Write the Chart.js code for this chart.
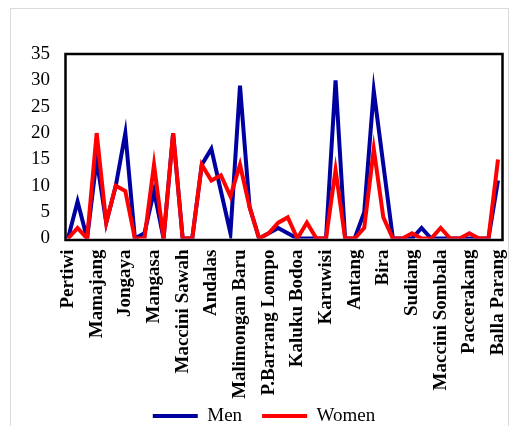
<!DOCTYPE html>
<html>
<head>
<meta charset="utf-8">
<script src="https://cdn.jsdelivr.net/npm/chart.js@4.4.1/dist/chart.umd.min.js"></script>
<style>
  html, body { margin: 0; padding: 0; background: #fff; }
  #frame { position: absolute; left: 10px; top: 8px; width: 497px; height: 430px; border: 1px solid #dadada; }
  #wrap { position: absolute; left: 0; top: 0; width: 511px; height: 426px; }
</style>
</head>
<body>
<div id="frame"></div>
<div id="wrap"><canvas id="chart" width="511" height="426"></canvas></div>
<script>
// health centres, only every third name is printed on the axis
const centres = [
  'Pertiwi', 'Tamalate', 'Cendrawasih', 'Mamajang', 'Kassi-Kassi', 'Pabbaeng-baeng',
  'Jongaya', 'Minasa Upa', 'Barombong', 'Mangasa', 'Tamamaung', 'Batua',
  'Maccini Sawah', 'Bara-Baraya', 'Makkasau', 'Andalas', 'Tarakan', 'Malimongan',
  'Malimongan Baru', 'Rappokalling', 'Tabaringan', 'P.Barrang Lompo', 'P.Barrang Caddi', 'P.Kodingareng',
  'Kaluku Bodoa', 'Jumpandang Baru', 'Layang', 'Karuwisi', 'Dahlia', 'Antara',
  'Antang', 'Antang Perumnas', 'Tamangapa', 'Bira', 'Tamalanrea', 'Tamalanrea Jaya',
  'Sudiang', 'Sudiang Raya', 'Bulurokeng', 'Maccini Sombala', 'Kapasa', 'Pampang',
  'Paccerakang', 'Daya', 'Toddopuli', 'Balla Parang'
];
const men = [
  0, 7, 0, 15, 3, 10, 20, 0, 1, 9, 0, 20, 0, 0, 14, 17, 9, 1, 29, 6, 0, 1, 2,
  1, 0, 0, 0, 0, 30, 0, 0, 5, 28, 14, 0, 0, 0, 2, 0, 0, 0, 0, 0, 0, 0, 11
];
const women = [
  0, 2, 0, 20, 3, 10, 9, 0, 0, 14, 0, 20, 0, 0, 14, 11, 12, 8, 14, 6, 0, 1, 3,
  4, 0, 3, 0, 0, 13, 0, 0, 2, 17, 4, 0, 0, 1, 0, 0, 2, 0, 0, 1, 0, 0, 15
];
const labelEvery = 3;
const yMax = 35;
const yStep = 5;

const serif = 'Liberation Serif';
const legendPad = 20;

// black box round the plot area, drawn under the lines
const plotFrame = {
  id: 'plotFrame',
  afterLayout(chart) {
    // pull the legend up a little so it sits close under the long labels
    chart.legend.top -= legendPad;
    chart.legend.bottom -= legendPad;
  },
  beforeDatasetsDraw(chart) {
    const { ctx, chartArea: a } = chart;
    ctx.save();
    ctx.strokeStyle = '#000';
    ctx.lineWidth = 2.5;
    ctx.strokeRect(a.left - 2.5, a.top, a.right - a.left + 7, a.bottom - a.top + 1.5);
    ctx.restore();
  }
};

new Chart(document.getElementById('chart'), {
  type: 'line',
  data: {
    labels: centres,
    datasets: [
      {
        label: 'Men',
        data: men,
        borderColor: '#0000a0',
        backgroundColor: '#0000a0',
        borderWidth: 4,
        pointRadius: 0,
        tension: 0,
        order: 1
      },
      {
        label: 'Women',
        data: women,
        borderColor: '#ff0000',
        backgroundColor: '#ff0000',
        borderWidth: 4,
        pointRadius: 0,
        tension: 0,
        order: 0
      }
    ]
  },
  options: {
    responsive: false,
    animation: false,
    layout: { padding: { top: 54, left: 30, right: 13, bottom: -(legendPad + 9.5) } },
    scales: {
      x: {
        grid: { display: false, drawTicks: false },
        border: { display: false },
        ticks: {
          autoSkip: false,
          minRotation: 90,
          maxRotation: 90,
          padding: 11,
          color: '#000',
          font: { family: serif, size: 19, weight: 'bold' },
          callback: (v, i) => (i % labelEvery === 0 ? centres[i] : '')
        },
        afterFit: s => {
          s.height = 168;
          s.paddingLeft = 0;
          s.paddingRight = 0;
        }
      },
      y: {
        min: 0,
        max: yMax,
        grid: { display: false, drawTicks: false },
        border: { display: false },
        ticks: {
          stepSize: yStep,
          autoSkip: false,
          padding: 18,
          color: '#000',
          font: { family: serif, size: 19 }
        },
        afterFit: s => { s.width = 38; }
      }
    },
    plugins: {
      tooltip: { enabled: false },
      legend: {
        position: 'bottom',
        labels: {
          color: '#000',
          boxWidth: 45,
          boxHeight: 4,
          padding: legendPad,
          font: { family: serif, size: 19 },
          sort: (a, b) => a.datasetIndex - b.datasetIndex,
          generateLabels: chart =>
            Chart.defaults.plugins.legend.labels.generateLabels(chart).map(l => ({ ...l, lineWidth: 0 }))
        }
      }
    }
  },
  plugins: [plotFrame]
});
</script>
</body>
</html>
